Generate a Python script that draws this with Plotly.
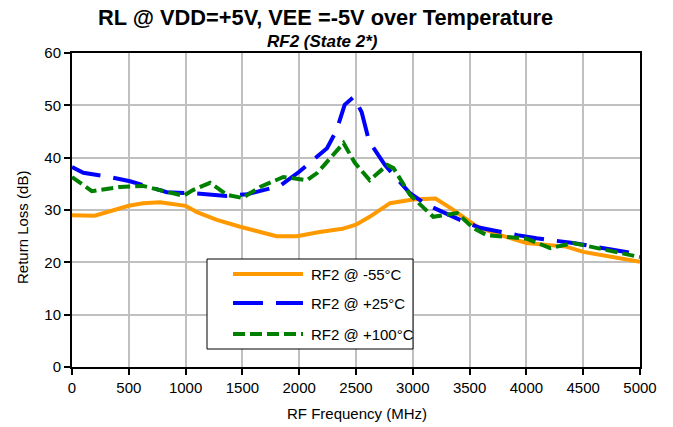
import plotly.graph_objects as go

# -55 C
f_m55 = [0, 200, 500, 625, 775, 1000, 1100, 1275, 1480, 1800, 1980, 2180, 2380, 2500, 2620, 2800, 3000, 3200, 3330, 3560, 3740, 4000, 4350, 4500, 5000]
rl_m55 = [29.0, 28.9, 30.8, 31.3, 31.5, 30.8, 29.6, 28.1, 26.8, 25.0, 25.0, 25.8, 26.4, 27.2, 28.7, 31.3, 32.0, 32.2, 30.4, 26.9, 25.4, 23.7, 23.0, 22.0, 20.1]
# +25 C
f_p25 = [0, 100, 335, 510, 835, 1065, 1360, 1540, 1830, 2000, 2245, 2330, 2400, 2480, 2550, 2605, 2650, 2755, 2975, 3125, 3415, 3590, 3920, 4090, 4410, 5000]
rl_p25 = [38.2, 37.1, 36.3, 35.5, 33.4, 33.2, 32.7, 33.0, 34.6, 37.3, 41.8, 45.3, 50.1, 51.6, 48.7, 44.0, 42.0, 38.6, 33.2, 31.0, 28.1, 26.6, 25.2, 24.6, 23.7, 21.5]
# +100 C
f_p100 = [0, 175, 420, 625, 775, 980, 1065, 1215, 1365, 1500, 1655, 1860, 2070, 2160, 2390, 2490, 2620, 2775, 2830, 2975, 3180, 3390, 3530, 3650, 4005, 4210, 4410, 5000]
rl_p100 = [36.3, 33.6, 34.4, 34.6, 33.8, 32.7, 33.8, 35.2, 32.9, 32.3, 34.4, 36.3, 35.7, 37.1, 42.8, 39.0, 35.7, 38.6, 38.0, 32.9, 28.7, 29.4, 26.6, 25.2, 24.5, 22.7, 23.7, 21.0]

names = ["RF2 @ -55°C", "RF2 @ +25°C", "RF2 @ +100°C"]
colors = ["#FF9900", "#0000FF", "#008000"]
dashes = ["solid", "30px,13px", "12px,5px"]

FONT = "Arial, 'Liberation Sans', sans-serif"

# plot area in pixels
L, R, T, B = 72, 640, 53, 367
W, H = 673, 427


def px(xp):
    return (xp - L) / (R - L)


def py(yp):
    return (B - yp) / (B - T)


fig = go.Figure()
series = [(f_m55, rl_m55), (f_p25, rl_p25), (f_p100, rl_p100)]
for (f, v), n, c, d in zip(series, names, colors, dashes):
    fig.add_trace(go.Scatter(x=f, y=v, mode="lines", name=n,
                             line=dict(color=c, width=4, dash=d)))

axis_common = dict(showgrid=True, gridcolor="#C0C0C0", gridwidth=2,
                   showline=True, linecolor="black", linewidth=2, mirror=True,
                   ticks="outside", ticklen=6, tickwidth=2, tickcolor="black",
                   zeroline=False, automargin=False, tickfont=dict(size=15))

fig.update_layout(
    width=W, height=H,
    margin=dict(l=L, r=W - R, t=T, b=H - B, pad=0),
    paper_bgcolor="white", plot_bgcolor="white",
    font=dict(family=FONT, size=15, color="black"),
    showlegend=False,
    xaxis=dict(range=[0, 5000], dtick=500, **axis_common),
    yaxis=dict(range=[0, 60], dtick=10, **axis_common),
)

# titles
fig.add_annotation(text="<b>RL @ VDD=+5V, VEE =-5V over Temperature</b>",
                   xref="paper", yref="paper", x=px(325), y=py(18),
                   xanchor="center", yanchor="middle", showarrow=False,
                   font=dict(family=FONT, size=21.8, color="black"))
fig.add_annotation(text="<b><i>RF2 (State 2*)</i></b>",
                   xref="paper", yref="paper", x=px(322), y=py(41),
                   xanchor="center", yanchor="middle", showarrow=False,
                   font=dict(family=FONT, size=17, color="black"))
fig.add_annotation(text="RF Frequency (MHz)",
                   xref="paper", yref="paper", x=px(357), y=py(413),
                   xanchor="center", yanchor="middle", showarrow=False,
                   font=dict(family=FONT, size=15, color="black"))
fig.add_annotation(text="Return Loss (dB)", textangle=-90,
                   xref="paper", yref="paper", x=px(22), y=py(228),
                   xanchor="center", yanchor="middle", showarrow=False,
                   font=dict(family=FONT, size=15, color="black"))

# legend box (custom, to match long line samples)
fig.add_shape(type="rect", xref="paper", yref="paper",
              x0=px(207), x1=px(413), y0=py(349), y1=py(259),
              line=dict(color="black", width=1), fillcolor="white", layer="above")
leg_y = [274, 303, 334]
for n, c, d, yy in zip(names, colors, dashes, leg_y):
    fig.add_shape(type="line", xref="paper", yref="paper",
                  x0=px(233), x1=px(303), y0=py(yy), y1=py(yy),
                  line=dict(color=c, width=4, dash=d), layer="above")
    fig.add_annotation(text=n, xref="paper", yref="paper", x=px(309), y=py(yy),
                       xanchor="left", yanchor="middle", showarrow=False,
                       font=dict(family=FONT, size=15, color="black"))

fig.write_html("out.html", config={"displayModeBar": False},
               post_script="document.body.style.margin='0px';document.body.style.padding='0px';")
